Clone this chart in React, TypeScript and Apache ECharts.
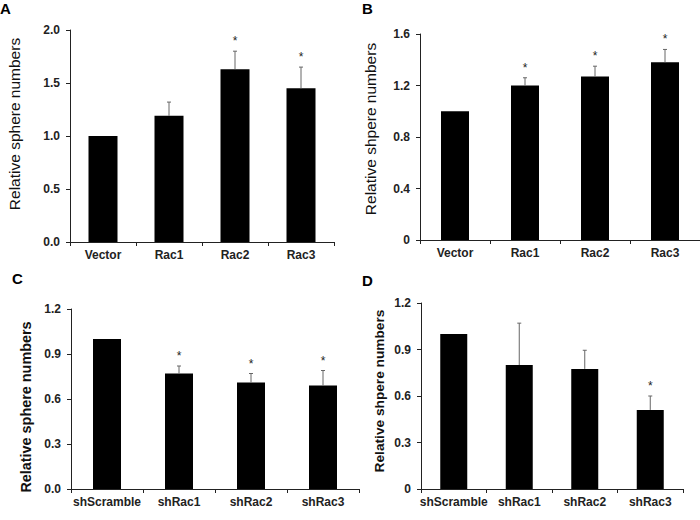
import React, { useEffect, useRef } from "react";
import * as echarts from "echarts";

const catsTop = ["Vector", "Rac1", "Rac2", "Rac3"];
const catsBottom = ["shScramble", "shRac1", "shRac2", "shRac3"];

const valuesA = [1.0, 1.19, 1.63, 1.45];
const errorsA = [0, 0.13, 0.17, 0.2];
const sigA = [0, 0, 1, 1];

const valuesB = [1.0, 1.2, 1.27, 1.38];
const errorsB = [0, 0.06, 0.08, 0.1];
const sigB = [0, 1, 1, 1];

const valuesC = [1.0, 0.77, 0.71, 0.69];
const errorsC = [0, 0.05, 0.06, 0.1];
const sigC = [0, 1, 1, 1];

const valuesD = [1.0, 0.8, 0.775, 0.51];
const errorsD = [0, 0.27, 0.12, 0.09];
const sigD = [0, 0, 0, 1];

const yTitleA = "Relative sphere numbers";
const yTitleB = "Relative shpere numbers";
const yTitleC = "Relative sphere numbers";
const yTitleD = "Relative shpere numbers";

const FONT = "'Liberation Sans', Arial, sans-serif";

export default function App() {
  const ref = useRef<HTMLDivElement>(null);

  useEffect(() => {
    if (!ref.current) return;
    const chart = echarts.init(ref.current, undefined, { renderer: "svg" });

    const panels = [
      { cats: catsTop, vals: valuesA, errs: errorsA, sig: sigA, grid: { left: 70, top: 30, width: 264, height: 212 }, max: 2, interval: 0.5, fixed: true, barWidth: 29 },
      { cats: catsTop, vals: valuesB, errs: errorsB, sig: sigB, grid: { left: 420, top: 34, width: 282, height: 206 }, max: 1.6, interval: 0.4, fixed: false, barWidth: 28 },
      { cats: catsBottom, vals: valuesC, errs: errorsC, sig: sigC, grid: { left: 71, top: 309, width: 288, height: 180 }, max: 1.2, interval: 0.3, fixed: true, barWidth: 28 },
      { cats: catsBottom, vals: valuesD, errs: errorsD, sig: sigD, grid: { left: 421, top: 303, width: 262, height: 186 }, max: 1.2, interval: 0.3, fixed: false, barWidth: 27 },
    ];

    const axisLineStyle = { color: "#222", width: 1 };

    const grids = panels.map((p) => ({ ...p.grid, containLabel: false }));
    const xAxes = panels.map((p, i) => ({
      type: "category",
      gridIndex: i,
      data: p.cats,
      axisLine: { show: true, lineStyle: axisLineStyle },
      axisTick: { show: true, length: 4, inside: false, lineStyle: axisLineStyle },
      axisLabel: { color: "#222", fontFamily: FONT, fontWeight: "bold", fontSize: 12, margin: 7, interval: 0 },
    }));
    const yAxes = panels.map((p, i) => ({
      type: "value",
      gridIndex: i,
      min: 0,
      max: p.max,
      interval: p.interval,
      splitLine: { show: false },
      axisLine: { show: true, lineStyle: axisLineStyle },
      axisTick: { show: true, length: 4, inside: false, lineStyle: axisLineStyle },
      axisLabel: {
        color: "#222",
        fontFamily: FONT,
        fontWeight: "bold",
        fontSize: 12,
        margin: 10,
        formatter: (v: number) => (p.fixed ? v.toFixed(1) : String(Math.round(v * 10) / 10)),
      },
    }));

    const series: any[] = [];
    panels.forEach((p, i) => {
      series.push({
        type: "bar",
        xAxisIndex: i,
        yAxisIndex: i,
        data: p.vals,
        barWidth: p.barWidth,
        itemStyle: { color: "#000" },
        z: 2,
      });
      series.push({
        type: "custom",
        xAxisIndex: i,
        yAxisIndex: i,
        z: 3,
        data: p.vals.map((v, k) => [k, v, p.errs[k], p.sig[k]]),
        encode: { x: 0, y: 1 },
        renderItem: (params: any, api: any) => {
          const idx = api.value(0);
          const v = api.value(1);
          const e = api.value(2);
          const s = api.value(3);
          const base = api.coord([idx, v]);
          const top = api.coord([idx, v + e]);
          const children: any[] = [];
          if (e > 0) {
            children.push({
              type: "line",
              shape: { x1: base[0], y1: base[1], x2: top[0], y2: top[1] },
              style: { stroke: "#666", lineWidth: 1 },
            });
            children.push({
              type: "line",
              shape: { x1: top[0] - 2, y1: top[1], x2: top[0] + 2, y2: top[1] },
              style: { stroke: "#666", lineWidth: 1 },
            });
          }
          if (s) {
            children.push({
              type: "text",
              x: top[0],
              y: top[1] - 4,
              style: { text: "*", align: "center", verticalAlign: "bottom", fontSize: 12, fontFamily: FONT, fill: "#222" },
            });
          }
          return { type: "group", children };
        },
      });
    });

    const yTitle = (text: string, x: number, y: number, size: number, weight: string) => ({
      type: "text",
      x,
      y,
      rotation: Math.PI / 2,
      style: { text, fontSize: size, fontFamily: FONT, fontWeight: weight, fill: "#111", align: "center", verticalAlign: "middle" },
    });
    const letter = (text: string, x: number, y: number) => ({
      type: "text",
      x,
      y,
      style: { text, fontSize: 15, fontFamily: FONT, fontWeight: "bold", fill: "#000", align: "left", verticalAlign: "top" },
    });

    chart.setOption({
      animation: false,
      grid: grids,
      xAxis: xAxes,
      yAxis: yAxes,
      series,
      graphic: [
        letter("A", 0, 1),
        letter("B", 362, 1),
        letter("C", 12, 271),
        letter("D", 362, 273),
        yTitle(yTitleA, 14, 124, 15.5, "normal"),
        yTitle(yTitleB, 370, 129, 15.5, "normal"),
        yTitle(yTitleC, 26, 407, 14.4, "bold"),
        yTitle(yTitleD, 379, 391, 13.7, "bold"),
      ],
    });

    return () => chart.dispose();
  }, []);

  return <div ref={ref} style={{ position: "fixed", left: 0, top: 0, width: 700, height: 520, background: "#fff" }} />;
}
